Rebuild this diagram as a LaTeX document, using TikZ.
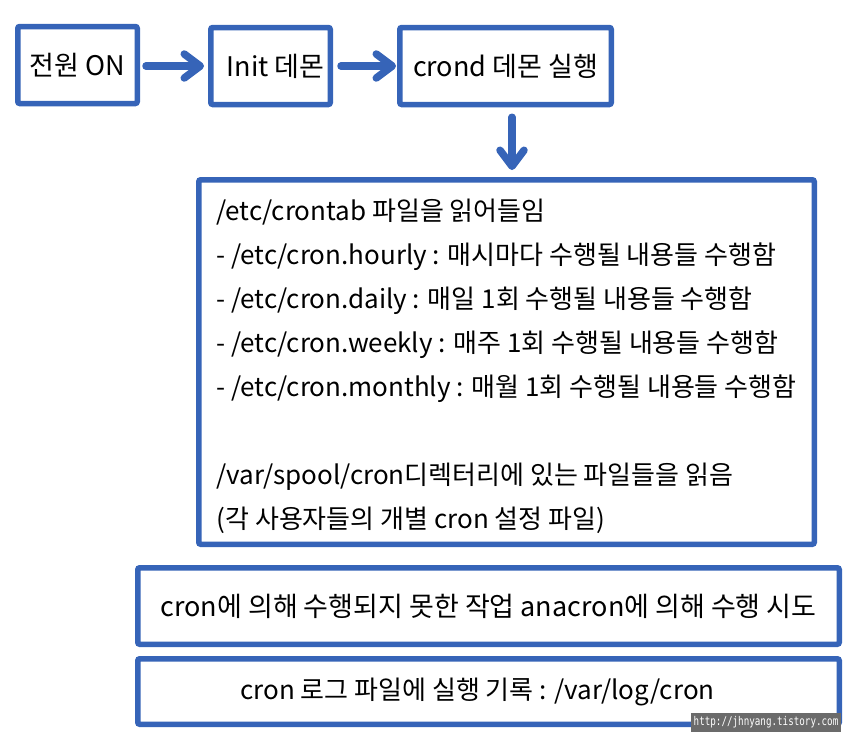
\documentclass[tikz,border=0pt]{standalone}
\usepackage{fontspec}
\setmainfont{Noto Sans CJK KR}
\newfontfamily\stampfont{DejaVu Sans Mono}
\usetikzlibrary{arrows.meta}
\definecolor{boxblue}{RGB}{54,100,184}

\begin{document}
\begin{tikzpicture}[
    x=1pt, y=-1pt,
    every node/.style={font=\fontsize{26}{44}\selectfont},
    stage/.style={draw=boxblue, line width=5.5pt, rounded corners=2pt, align=center, inner sep=0pt, fill=white},
    toprow/.style={stage, minimum width=119.5pt, minimum height=77pt, font=\fontsize{27}{34}\selectfont},
    lowrow/.style={stage, minimum width=701.5pt, font=\fontsize{27}{32}\selectfont},
    flow/.style={-{Straight Barb[length=16pt, width=24pt, round]}, line width=7.5pt, line cap=round, boxblue},
]
\useasboundingbox (0,0) rectangle (860,747);
\node[toprow] (power) at (77.5, 65) {전원 ON};
\node[toprow] (init) at (270.5, 66) {\hspace*{10pt}Init 데몬};
\node[toprow, minimum width=211.5pt] (crond) at (505.5, 66) {crond 데몬 실행};
\draw[flow, shorten <=6pt, shorten >=4pt] (init.west -| power.east) -- (init.west);
\draw[flow, shorten <=8pt, shorten >=1pt] (init.east) -- (crond.west);

\node[stage, minimum width=615.5pt, minimum height=364.5pt, align=left] (readfiles) at (506.5, 362) {%
\rule{0pt}{30pt}/etc/crontab 파일을 읽어들임\\
- /etc/cron.hourly : 매시마다 수행될 내용들 수행함\\
- /etc/cron.daily : 매일 1회 수행될 내용들 수행함\\
- /etc/cron.weekly : 매주 1회 수행될 내용들 수행함\\
- /etc/cron.monthly : 매월 1회 수행될 내용들 수행함\\[44pt]
/var/spool/cron디렉터리에 있는 파일들을 읽음\\
(각 사용자들의 개별 cron 설정 파일)};
\coordinate (drop) at (512, 0);
\draw[flow, shorten <=10pt, shorten >=7pt] (crond.south -| drop) -- (readfiles.north -| drop);

\node[lowrow, minimum height=76.5pt] (anacron) at (488.5, 606) {cron에 의해 수행되지 못한 작업 anacron에 의해 수행 시도};
\node[lowrow, minimum height=65.5pt, font=\fontsize{26}{32}\selectfont] (cronlog) at (488.5, 691.5) {cron 로그 파일에 실행 기록 : /var/log/cron\hspace*{22pt}};

% watermark
\node[fill=black!58, text=white, inner sep=0pt, minimum width=150pt, minimum height=19pt, font=\stampfont\fontsize{12}{12}\selectfont] (stamp) at (766, 722.5) {\scalebox{0.77}[1]{http://jhnyang.tistory.com}};
\end{tikzpicture}
\end{document}
